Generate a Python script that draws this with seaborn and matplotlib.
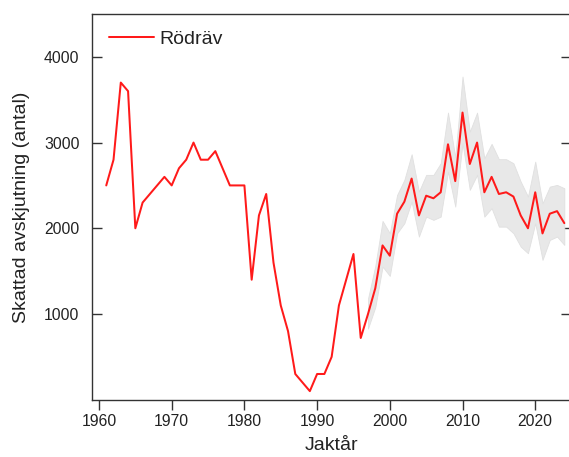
import matplotlib
matplotlib.use("Agg")
import matplotlib.pyplot as plt
import seaborn as sns
import pandas as pd
import numpy as np

years = list(range(1961, 2025))
harvest = [2500, 2800, 3700, 3600, 2000, 2300, 2400, 2500, 2600, 2500,
           2700, 2800, 3000, 2800, 2800, 2900, 2700, 2500, 2500, 2500,
           1400, 2150, 2400, 1600, 1100, 800, 300, 200, 100, 300,
           300, 500, 1100, 1400, 1700, 720, 1000, 1300, 1800, 1680,
           2170, 2310, 2580, 2150, 2380, 2350, 2420, 2980, 2550, 3350,
           2750, 3000, 2420, 2600, 2400, 2420, 2370, 2150, 2000, 2420,
           1940, 2170, 2200, 2060]

ci_years = list(range(1997, 2025))
ci_lower = [830, 1080, 1553, 1444, 1942, 2059, 2311, 1903, 2136, 2098,
            2136, 2661, 2253, 2993, 2448, 2623, 2136, 2234, 2019, 2019,
            1942, 1786, 1709, 2059, 1631, 1864, 1903, 1806]
ci_upper = [1180, 1560, 2086, 1942, 2389, 2565, 2864, 2428, 2623, 2623,
            2759, 3350, 2829, 3770, 3128, 3350, 2818, 2985, 2806, 2806,
            2759, 2545, 2370, 2778, 2292, 2486, 2506, 2467]

series_label = "Rödräv"
x_label = "Jaktår"
y_label = "Skattad avskjutning (antal)"
x_ticks = [1960, 1970, 1980, 1990, 2000, 2010, 2020]
y_ticks = [1000, 2000, 3000, 4000]

sns.set_theme(style="white")
plt.rcParams['font.family'] = ['Liberation Sans', 'DejaVu Sans']

df = pd.DataFrame({"year": years, "value": harvest})

fig = plt.figure(figsize=(5.69, 4.57), dpi=100)
W, H = 569, 457
left, right, top, bottom = 92, 570.5, 14, 399.7
ax = fig.add_axes([left / W, 1 - bottom / H, (right - left) / W, (bottom - top) / H])

ax.fill_between(ci_years, ci_lower, ci_upper, color="#e8e8e8", edgecolor="#e0e0e0",
                linewidth=0.6, zorder=1)
sns.lineplot(data=df, x="year", y="value", ax=ax, color="#ff1a1a", linewidth=1.45,
             label=series_label, zorder=3)

ax.set_xlim(1959.04, 2024.85)
ax.set_ylim(0, 4500)
ax.set_xticks(x_ticks)
ax.set_yticks(y_ticks)
ax.set_xlabel(x_label, fontsize=14, color="#222222", labelpad=6)
ax.set_ylabel(y_label, fontsize=14, color="#222222", labelpad=10)

for s in ax.spines.values():
    s.set_color("#333333")
    s.set_linewidth(1.0)
    s.set_visible(True)

ax.tick_params(axis='y', direction='in', left=True, right=True, length=7, width=1,
               color="#333333", labelsize=11.3, labelcolor="#222222", pad=9)
ax.tick_params(axis='x', direction='out', bottom=True, top=False, length=7, width=1,
               color="#333333", labelsize=11.3, labelcolor="#222222", pad=3)

leg = ax.legend(loc="center left", bbox_to_anchor=((109 - left) / (right - left), (bottom - 39) / (bottom - top)),
                frameon=False, fontsize=14, handlelength=2.3, handletextpad=0.3,
                borderpad=0, borderaxespad=0)
for t in leg.get_texts():
    t.set_color("#222222")

fig.savefig("out.png", dpi=100)
